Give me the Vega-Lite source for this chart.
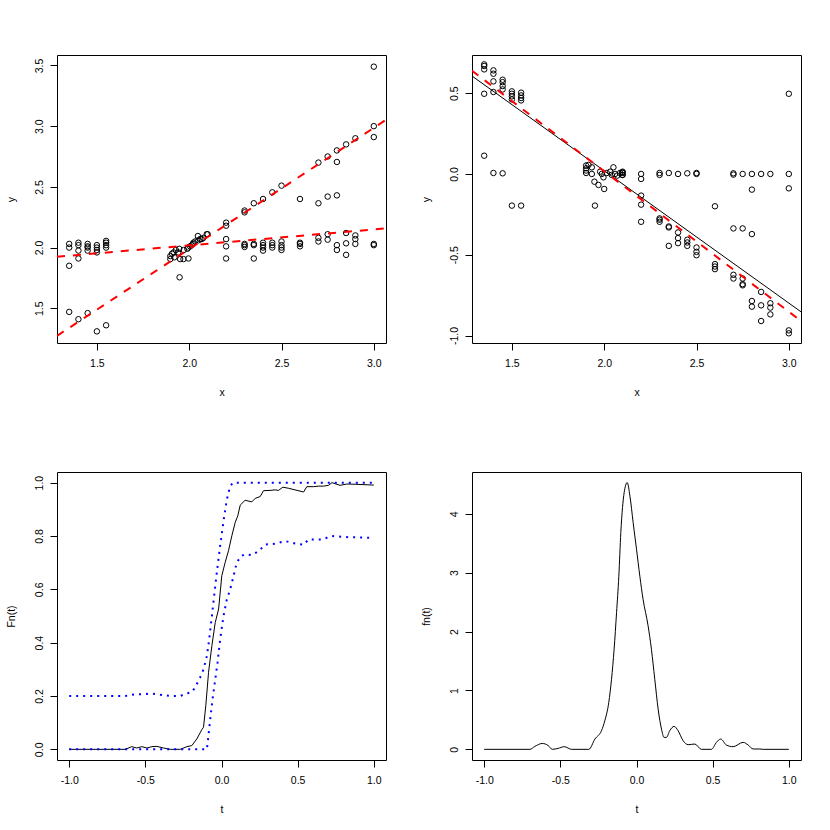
{
  "$schema": "https://vega.github.io/schema/vega-lite/v6.json",
  "padding": {"left": 5, "top": 54, "right": 5, "bottom": 5},
  "background": "white",
  "config": {
    "view": {"stroke": "black", "strokeWidth": 1},
    "font": "Liberation Sans",
    "axis": {"domain": false, "grid": false, "ticks": true, "tickColor": "black", "tickSize": 7, "tickWidth": 1, "labelColor": "black", "labelFont": "Liberation Sans", "labelFontSize": 10.5, "titleFont": "Liberation Sans", "titleFontSize": 10.5, "titleFontWeight": "normal", "titleColor": "black", "labelPadding": 8, "labelFlush": false, "labelOverlap": false},
    "axisX": {"labelAngle": 0, "labelBaseline": "top", "labelAlign": "center", "titleY": 52, "titleBaseline": "alphabetic"},
    "axisY": {"labelAngle": -90, "labelAlign": "center", "labelBaseline": "alphabetic", "titleX": -43, "titleY": 144, "titleAngle": -90, "titleAlign": "center", "titleBaseline": "alphabetic"}
  },
  "datasets": {
    "p1": [
      {"x":1.35,"y":2.03},{"x":1.35,"y":2.0},{"x":1.35,"y":1.85},{"x":1.35,"y":1.47},
      {"x":1.4,"y":2.04},{"x":1.4,"y":2.02},{"x":1.4,"y":1.975},{"x":1.4,"y":1.91},{"x":1.4,"y":1.41},
      {"x":1.45,"y":2.03},{"x":1.45,"y":2.01},{"x":1.45,"y":2.0},{"x":1.45,"y":1.975},{"x":1.45,"y":1.46},
      {"x":1.5,"y":2.02},{"x":1.5,"y":2.0},{"x":1.5,"y":1.98},{"x":1.5,"y":1.96},{"x":1.5,"y":1.31},
      {"x":1.55,"y":2.055},{"x":1.55,"y":2.04},{"x":1.55,"y":2.02},{"x":1.55,"y":2.0},{"x":1.55,"y":1.36},
      {"x":1.898,"y":1.905},{"x":1.898,"y":1.93},{"x":1.907,"y":1.95},{"x":1.916,"y":1.96},{"x":1.92,"y":1.92},{"x":1.928,"y":1.98},{"x":1.94,"y":1.96},{"x":1.946,"y":1.99},{"x":1.951,"y":1.905},{"x":1.969,"y":1.905},{"x":1.97,"y":1.98},{"x":1.99,"y":1.99},{"x":1.996,"y":1.91},{"x":1.948,"y":1.755},{"x":1.996,"y":2.0},{"x":2.005,"y":2.01},{"x":2.014,"y":2.02},{"x":2.02,"y":2.03},{"x":2.023,"y":2.04},{"x":2.032,"y":2.05},{"x":2.047,"y":2.095},{"x":2.05,"y":2.06},{"x":2.06,"y":2.07},{"x":2.068,"y":2.07},{"x":2.077,"y":2.08},{"x":2.095,"y":2.11},{"x":2.1,"y":2.11},
      {"x":2.2,"y":2.205},{"x":2.2,"y":2.18},{"x":2.2,"y":2.07},{"x":2.2,"y":2.01},{"x":2.2,"y":1.91},
      {"x":2.3,"y":2.305},{"x":2.3,"y":2.29},{"x":2.3,"y":2.03},{"x":2.3,"y":2.02},{"x":2.3,"y":2.005},
      {"x":2.35,"y":2.365},{"x":2.35,"y":2.03},{"x":2.35,"y":2.02},{"x":2.35,"y":1.91},
      {"x":2.4,"y":2.4},{"x":2.4,"y":2.04},{"x":2.4,"y":2.02},{"x":2.4,"y":2.0},{"x":2.4,"y":1.975},
      {"x":2.45,"y":2.455},{"x":2.45,"y":2.04},{"x":2.45,"y":2.02},{"x":2.45,"y":2.0},
      {"x":2.5,"y":2.51},{"x":2.5,"y":2.05},{"x":2.5,"y":2.02},{"x":2.5,"y":2.0},{"x":2.5,"y":1.98},
      {"x":2.6,"y":2.4},{"x":2.6,"y":2.04},{"x":2.6,"y":2.03},{"x":2.6,"y":2.01},
      {"x":2.7,"y":2.7},{"x":2.7,"y":2.365},{"x":2.7,"y":2.08},{"x":2.7,"y":2.05},
      {"x":2.75,"y":2.75},{"x":2.75,"y":2.42},{"x":2.75,"y":2.11},{"x":2.75,"y":2.065},
      {"x":2.8,"y":2.8},{"x":2.8,"y":2.705},{"x":2.8,"y":2.43},{"x":2.8,"y":2.02},{"x":2.8,"y":1.98},
      {"x":2.85,"y":2.85},{"x":2.85,"y":2.12},{"x":2.85,"y":2.035},{"x":2.85,"y":1.94},
      {"x":2.9,"y":2.9},{"x":2.9,"y":2.1},{"x":2.9,"y":2.07},{"x":2.9,"y":2.03},
      {"x":3.0,"y":3.49},{"x":3.0,"y":3.0},{"x":3.0,"y":2.91},{"x":3.0,"y":2.03},{"x":3.0,"y":2.02}
    ],
    "l1": [
      {"x":1.284,"y":1.273,"g":"a"},{"x":3.066,"y":3.052,"g":"a"},
      {"x":1.284,"y":1.924,"g":"b"},{"x":3.066,"y":2.158,"g":"b"}
    ],
    "p2": [
      {"x":1.35,"y":0.678},{"x":1.35,"y":0.668},{"x":1.35,"y":0.647},{"x":1.35,"y":0.496},{"x":1.35,"y":0.113},
      {"x":1.4,"y":0.641},{"x":1.4,"y":0.62},{"x":1.4,"y":0.573},{"x":1.4,"y":0.507},{"x":1.4,"y":0.006},
      {"x":1.45,"y":0.583},{"x":1.45,"y":0.568},{"x":1.45,"y":0.544},{"x":1.45,"y":0.523},{"x":1.45,"y":0.004},
      {"x":1.5,"y":0.511},{"x":1.5,"y":0.496},{"x":1.5,"y":0.48},{"x":1.5,"y":0.461},{"x":1.5,"y":-0.196},
      {"x":1.55,"y":0.503},{"x":1.55,"y":0.486},{"x":1.55,"y":0.47},{"x":1.55,"y":0.455},{"x":1.55,"y":-0.196},
      {"x":1.902,"y":0.052},{"x":1.902,"y":0.035},{"x":1.902,"y":0.021},{"x":1.902,"y":0.006},{"x":1.915,"y":0.056},{"x":1.933,"y":0.041},{"x":1.933,"y":0.0},{"x":1.947,"y":-0.048},{"x":1.95,"y":-0.196},{"x":1.969,"y":-0.068},{"x":1.978,"y":0.014},{"x":1.987,"y":0.0},{"x":1.996,"y":-0.021},{"x":2.0,"y":-0.093},{"x":2.014,"y":0.006},{"x":2.032,"y":0.014},{"x":2.041,"y":-0.006},{"x":2.05,"y":0.041},{"x":2.059,"y":0.0},{"x":2.071,"y":-0.01},{"x":2.086,"y":0.006},{"x":2.098,"y":0.01},{"x":2.098,"y":-0.006},
      {"x":2.1,"y":0.014},{"x":2.1,"y":0.006},{"x":2.1,"y":-0.006},
      {"x":2.2,"y":0.0},{"x":2.2,"y":-0.031},{"x":2.2,"y":-0.134},{"x":2.2,"y":-0.19},{"x":2.2,"y":-0.296},
      {"x":2.3,"y":0.006},{"x":2.3,"y":-0.006},{"x":2.3,"y":-0.275},{"x":2.3,"y":-0.283},{"x":2.3,"y":-0.296},
      {"x":2.35,"y":0.006},{"x":2.35,"y":-0.325},{"x":2.35,"y":-0.331},{"x":2.35,"y":-0.445},
      {"x":2.4,"y":0.0},{"x":2.4,"y":-0.362},{"x":2.4,"y":-0.397},{"x":2.4,"y":-0.428},
      {"x":2.45,"y":0.004},{"x":2.45,"y":-0.407},{"x":2.45,"y":-0.424},{"x":2.45,"y":-0.445},
      {"x":2.5,"y":0.006},{"x":2.5,"y":0.0},{"x":2.5,"y":-0.455},{"x":2.5,"y":-0.482},{"x":2.5,"y":-0.503},
      {"x":2.6,"y":-0.2},{"x":2.6,"y":-0.558},{"x":2.6,"y":-0.573},{"x":2.6,"y":-0.589},
      {"x":2.7,"y":0.004},{"x":2.7,"y":-0.004},{"x":2.7,"y":-0.337},{"x":2.7,"y":-0.624},{"x":2.7,"y":-0.647},
      {"x":2.75,"y":0.0},{"x":2.75,"y":-0.337},{"x":2.75,"y":-0.647},{"x":2.75,"y":-0.682},{"x":2.75,"y":-0.689},
      {"x":2.8,"y":0.0},{"x":2.8,"y":-0.097},{"x":2.8,"y":-0.372},{"x":2.8,"y":-0.786},{"x":2.8,"y":-0.821},
      {"x":2.85,"y":0.0},{"x":2.85,"y":-0.73},{"x":2.85,"y":-0.813},{"x":2.85,"y":-0.91},
      {"x":2.9,"y":0.0},{"x":2.9,"y":-0.8},{"x":2.9,"y":-0.827},{"x":2.9,"y":-0.869},
      {"x":3.0,"y":0.496},{"x":3.0,"y":0.0},{"x":3.0,"y":-0.089},{"x":3.0,"y":-0.968},{"x":3.0,"y":-0.986}
    ],
    "l2a": [{"x":1.284,"y":0.606},{"x":3.066,"y":-0.853}],
    "l2b": [{"x":1.284,"y":0.639},{"x":3.066,"y":-0.91}],
    "fn": [
      {"t":-1.0,"y":0},{"t":-0.632,"y":0},{"t":-0.589,"y":0.01},{"t":-0.556,"y":0.005},{"t":-0.523,"y":0.01},{"t":-0.49,"y":0.005},{"t":-0.457,"y":0.01},{"t":-0.424,"y":0.011},{"t":-0.38,"y":0.005},{"t":-0.337,"y":0},{"t":-0.271,"y":0},{"t":-0.227,"y":0.01},{"t":-0.195,"y":0.014},{"t":-0.162,"y":0.039},{"t":-0.129,"y":0.074},{"t":-0.118,"y":0.083},{"t":-0.103,"y":0.164},{"t":-0.085,"y":0.289},{"t":-0.063,"y":0.389},{"t":-0.041,"y":0.476},{"t":-0.019,"y":0.526},{"t":0.002,"y":0.651},{"t":0.024,"y":0.701},{"t":0.046,"y":0.745},{"t":0.068,"y":0.801},{"t":0.09,"y":0.851},{"t":0.107,"y":0.876},{"t":0.123,"y":0.916},{"t":0.155,"y":0.934},{"t":0.199,"y":0.928},{"t":0.221,"y":0.941},{"t":0.254,"y":0.948},{"t":0.276,"y":0.97},{"t":0.319,"y":0.971},{"t":0.352,"y":0.973},{"t":0.374,"y":0.971},{"t":0.403,"y":0.983},{"t":0.44,"y":0.979},{"t":0.539,"y":0.965},{"t":0.56,"y":0.985},{"t":0.604,"y":0.985},{"t":0.637,"y":0.987},{"t":0.67,"y":0.987},{"t":0.703,"y":0.99},{"t":0.725,"y":1.0},{"t":0.779,"y":0.99},{"t":0.823,"y":0.995},{"t":0.878,"y":0.994},{"t":1.0,"y":0.991}
    ],
    "up": [
      {"t":-1.0,"y":0.2},{"t":-0.632,"y":0.2},{"t":-0.589,"y":0.205},{"t":-0.523,"y":0.207},{"t":-0.457,"y":0.209},{"t":-0.38,"y":0.203},{"t":-0.337,"y":0.2},{"t":-0.271,"y":0.2},{"t":-0.227,"y":0.21},{"t":-0.195,"y":0.214},{"t":-0.173,"y":0.232},{"t":-0.14,"y":0.27},{"t":-0.118,"y":0.3},{"t":-0.096,"y":0.35},{"t":-0.081,"y":0.412},{"t":-0.063,"y":0.5},{"t":-0.046,"y":0.587},{"t":-0.031,"y":0.662},{"t":-0.009,"y":0.762},{"t":0.013,"y":0.856},{"t":0.035,"y":0.937},{"t":0.057,"y":0.987},{"t":0.075,"y":1.0},{"t":1.0,"y":1.0}
    ],
    "lo": [
      {"t":-1.0,"y":0},{"t":-0.096,"y":0},{"t":-0.09,"y":0.029},{"t":-0.074,"y":0.113},{"t":-0.059,"y":0.188},{"t":-0.041,"y":0.262},{"t":-0.026,"y":0.325},{"t":-0.009,"y":0.412},{"t":0.013,"y":0.5},{"t":0.035,"y":0.562},{"t":0.057,"y":0.6},{"t":0.079,"y":0.65},{"t":0.1,"y":0.7},{"t":0.129,"y":0.725},{"t":0.155,"y":0.731},{"t":0.199,"y":0.728},{"t":0.243,"y":0.743},{"t":0.287,"y":0.768},{"t":0.352,"y":0.771},{"t":0.418,"y":0.781},{"t":0.483,"y":0.772},{"t":0.539,"y":0.767},{"t":0.571,"y":0.787},{"t":0.659,"y":0.787},{"t":0.725,"y":0.8},{"t":0.812,"y":0.796},{"t":1.0,"y":0.793}
    ],
    "dens": [
      {"t":-1.0,"y":0},{"t":-0.7,"y":0},{"t":-0.667,"y":0.05},{"t":-0.619,"y":0.1},{"t":-0.579,"y":0.063},{"t":-0.553,"y":0},{"t":-0.514,"y":0.017},{"t":-0.474,"y":0.045},{"t":-0.426,"y":0},{"t":-0.313,"y":0},{"t":-0.273,"y":0.175},{"t":-0.23,"y":0.316},{"t":-0.208,"y":0.486},{"t":-0.182,"y":0.797},{"t":-0.164,"y":1.19},{"t":-0.147,"y":1.7},{"t":-0.131,"y":2.32},{"t":-0.116,"y":2.94},{"t":-0.103,"y":3.68},{"t":-0.081,"y":4.36},{"t":-0.061,"y":4.53},{"t":-0.043,"y":4.3},{"t":-0.022,"y":3.85},{"t":0.0,"y":3.4},{"t":0.022,"y":2.94},{"t":0.043,"y":2.55},{"t":0.076,"y":2.1},{"t":0.098,"y":1.7},{"t":0.12,"y":1.19},{"t":0.142,"y":0.684},{"t":0.164,"y":0.345},{"t":0.181,"y":0.203},{"t":0.197,"y":0.203},{"t":0.218,"y":0.316},{"t":0.247,"y":0.39},{"t":0.273,"y":0.316},{"t":0.306,"y":0.147},{"t":0.339,"y":0.079},{"t":0.383,"y":0.09},{"t":0.426,"y":0},{"t":0.492,"y":0},{"t":0.525,"y":0.119},{"t":0.553,"y":0.175},{"t":0.59,"y":0.073},{"t":0.634,"y":0.045},{"t":0.7,"y":0.119},{"t":0.733,"y":0.073},{"t":0.766,"y":0.006},{"t":0.81,"y":0.006},{"t":0.832,"y":0},{"t":1.0,"y":0}
    ]
  },
  "columns": 2,
  "spacing": {"row": 129, "column": 86},
  "bounds": "flush",
  "concat": [
    {
      "width": 329, "height": 288,
      "layer": [
        {
          "data": {"name": "p1"},
          "mark": {"type": "point", "shape": "circle", "filled": false, "color": "black", "size": 30, "strokeWidth": 1, "opacity": 1},
          "encoding": {
            "x": {"field": "x", "type": "quantitative", "scale": {"domain": [1.284, 3.066], "nice": false, "zero": false}, "axis": {"title": "x", "values": [1.5, 2.0, 2.5, 3.0], "format": ".1f"}},
            "y": {"field": "y", "type": "quantitative", "scale": {"domain": [1.214, 3.586], "nice": false, "zero": false}, "axis": {"title": "y", "values": [1.5, 2.0, 2.5, 3.0, 3.5], "format": ".1f"}}
          }
        },
        {
          "data": {"name": "l1"},
          "mark": {"type": "line", "color": "#FF0000", "strokeWidth": 2, "strokeDash": [8, 8], "clip": true},
          "encoding": {
            "x": {"field": "x", "type": "quantitative"},
            "y": {"field": "y", "type": "quantitative"},
            "detail": {"field": "g", "type": "nominal"}
          }
        }
      ]
    },
    {
      "width": 329, "height": 288,
      "layer": [
        {
          "data": {"name": "p2"},
          "mark": {"type": "point", "shape": "circle", "filled": false, "color": "black", "size": 30, "strokeWidth": 1, "opacity": 1},
          "encoding": {
            "x": {"field": "x", "type": "quantitative", "scale": {"domain": [1.284, 3.066], "nice": false, "zero": false}, "axis": {"title": "x", "values": [1.5, 2.0, 2.5, 3.0], "format": ".1f"}},
            "y": {"field": "y", "type": "quantitative", "scale": {"domain": [-1.046, 0.736], "nice": false, "zero": false}, "axis": {"title": "y", "values": [-1.0, -0.5, 0.0, 0.5], "labelExpr": "replace(format(datum.value, '.1f'), '\u2212', '-')"}}
          }
        },
        {
          "data": {"name": "l2a"},
          "mark": {"type": "line", "color": "black", "strokeWidth": 1, "clip": true},
          "encoding": {
            "x": {"field": "x", "type": "quantitative"},
            "y": {"field": "y", "type": "quantitative"}
          }
        },
        {
          "data": {"name": "l2b"},
          "mark": {"type": "line", "color": "#FF0000", "strokeWidth": 2, "strokeDash": [8, 8], "clip": true},
          "encoding": {
            "x": {"field": "x", "type": "quantitative"},
            "y": {"field": "y", "type": "quantitative"}
          }
        }
      ]
    },
    {
      "width": 329, "height": 288,
      "layer": [
        {
          "data": {"name": "fn"},
          "mark": {"type": "line", "color": "black", "strokeWidth": 1},
          "encoding": {
            "x": {"field": "t", "type": "quantitative", "scale": {"domain": [-1.08, 1.08], "nice": false, "zero": false}, "axis": {"title": "t", "values": [-1, -0.5, 0, 0.5, 1], "labelExpr": "replace(format(datum.value, '.1f'), '\u2212', '-')"}},
            "y": {"field": "y", "type": "quantitative", "scale": {"domain": [-0.04, 1.04], "nice": false, "zero": false}, "axis": {"title": "Fn(t)", "values": [0, 0.2, 0.4, 0.6, 0.8, 1.0], "format": ".1f"}}
          }
        },
        {
          "data": {"name": "up"},
          "mark": {"type": "line", "color": "#0000FF", "strokeWidth": 2, "strokeDash": [2, 5]},
          "encoding": {
            "x": {"field": "t", "type": "quantitative"},
            "y": {"field": "y", "type": "quantitative"}
          }
        },
        {
          "data": {"name": "lo"},
          "mark": {"type": "line", "color": "#0000FF", "strokeWidth": 2, "strokeDash": [2, 5]},
          "encoding": {
            "x": {"field": "t", "type": "quantitative"},
            "y": {"field": "y", "type": "quantitative"}
          }
        }
      ]
    },
    {
      "width": 329, "height": 288,
      "data": {"name": "dens"},
      "mark": {"type": "line", "color": "black", "strokeWidth": 1, "interpolate": "monotone"},
      "encoding": {
        "x": {"field": "t", "type": "quantitative", "scale": {"domain": [-1.08, 1.08], "nice": false, "zero": false}, "axis": {"title": "t", "values": [-1, -0.5, 0, 0.5, 1], "labelExpr": "replace(format(datum.value, '.1f'), '\u2212', '-')"}},
        "y": {"field": "y", "type": "quantitative", "scale": {"domain": [-0.181, 4.71], "nice": false, "zero": false}, "axis": {"title": "fn(t)", "values": [0, 1, 2, 3, 4], "format": "d"}}
      }
    }
  ]
}
